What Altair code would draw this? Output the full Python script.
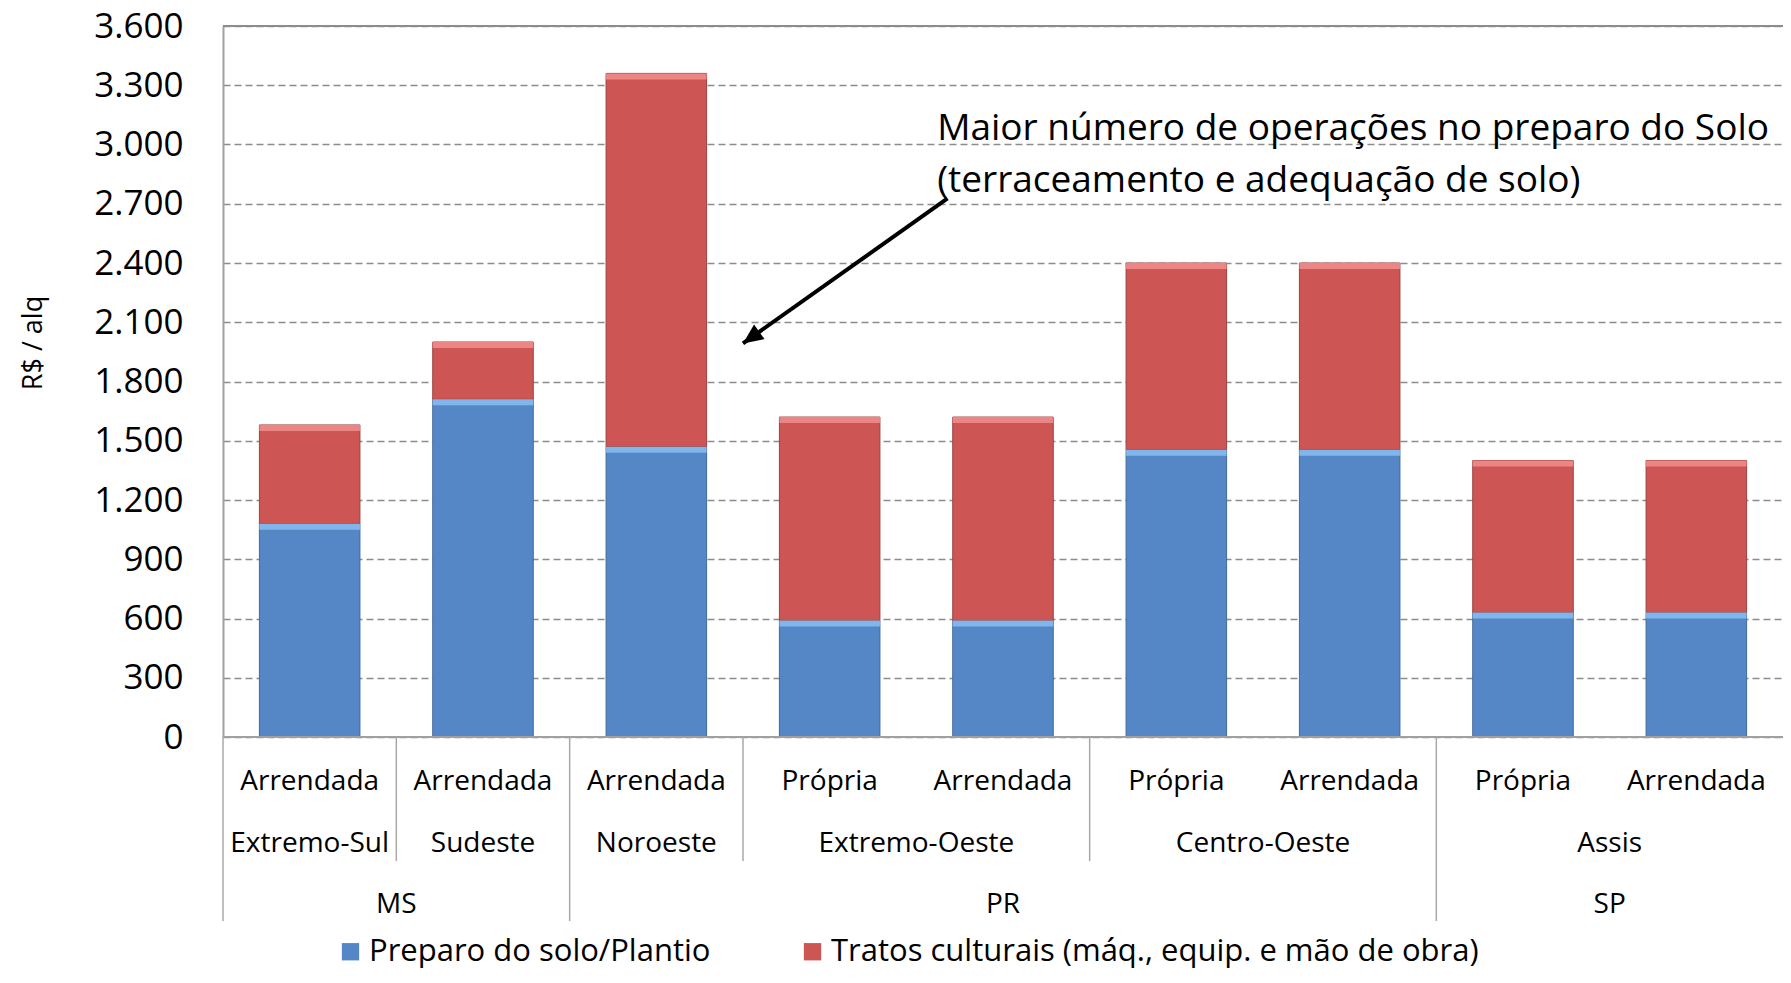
import altair as alt
import pandas as pd

# ---------------- data ----------------
states = ["MS", "MS", "PR", "PR", "PR", "PR", "PR", "SP", "SP"]
regions = ["Extremo-Sul", "Sudeste", "Noroeste", "Extremo-Oeste", "Extremo-Oeste",
           "Centro-Oeste", "Centro-Oeste", "Assis", "Assis"]
tenure = ["Arrendada", "Arrendada", "Arrendada", "Própria", "Arrendada",
          "Própria", "Arrendada", "Própria", "Arrendada"]
preparo = [1080, 1710, 1470, 590, 590, 1455, 1455, 630, 630]
tratos = [500, 290, 1890, 1030, 1030, 945, 945, 770, 770]
series = ["Preparo do solo/Plantio", "Tratos culturais (máq., equip. e mão de obra)"]
colors = ["#5587C7", "#CD5553"]
light_colors = ["#80B6EC", "#EC8684"]
edge_colors = ["#41699C", "#9C4240"]
y_ticks = list(range(0, 3601, 300))
annot_lines = ["Maior número de operações no preparo do Solo",
               "(terraceamento e adequação de solo)"]
annot_x = [4.12, 4.12]
annot_y = [3080, 2815]
arrow_x = [4.18, 3.0]
arrow_y = [2727, 1993]

# ---------------- layout constants ----------------
W, H = 1560, 711
FONT = "Open Sans"
n = len(tenure)

# ---------------- tables ----------------
rows = []
for i in range(n):
    bottoms = [0, preparo[i]]
    tops = [preparo[i], preparo[i] + tratos[i]]
    for s in range(2):
        rows.append({
            "pos": i, "x0": i + 0.21, "x1": i + 0.79,
            "y0": bottoms[s], "y1": tops[s], "serie": series[s],
            "light": light_colors[s], "edge": edge_colors[s],
        })
bars_df = pd.DataFrame(rows)

row1_df = pd.DataFrame({"x": [i + 0.5 for i in range(n)], "label": tenure})


def groups(labels):
    out = []
    start = 0
    for i in range(1, n + 1):
        if i == n or labels[i] != labels[start]:
            out.append((labels[start], start, i))
            start = i
    return out


reg_groups = groups(regions)
st_groups = groups(states)
row2_df = pd.DataFrame({"x": [(a + b) / 2 for _, a, b in reg_groups],
                        "label": [g for g, _, _ in reg_groups]})
row3_df = pd.DataFrame({"x": [(a + b) / 2 for _, a, b in st_groups],
                        "label": [g for g, _, _ in st_groups]})

state_bounds = sorted({a for _, a, _ in st_groups})
region_bounds = sorted({a for _, a, _ in reg_groups} - set(state_bounds))
long_df = pd.DataFrame({"x": state_bounds})
short_df = pd.DataFrame({"x": region_bounds})

annot_df = pd.DataFrame({"x": annot_x, "y": annot_y, "t": annot_lines})
arrow_df = pd.DataFrame({"x": [arrow_x[0]], "y": [arrow_y[0]],
                         "x2": [arrow_x[1]], "y2": [arrow_y[1]]})
head_df = pd.DataFrame({"x": [arrow_x[1]], "y": [arrow_y[1]]})
one = pd.DataFrame({"k": [0]})

xscale = alt.Scale(domain=[0, n], nice=False, zero=False)
yscale = alt.Scale(domain=[0, 3600], nice=False)

label_expr = "replace(format(datum.value, ','), ',', '.')"

bars = alt.Chart(bars_df).mark_bar(strokeWidth=1).encode(
    x=alt.X("x0:Q", scale=xscale, axis=None),
    x2="x1:Q",
    y=alt.Y("y0:Q", scale=yscale, axis=alt.Axis(
        values=y_ticks, labelExpr=label_expr, grid=True, gridDash=[7, 4],
        gridColor="#8c8c8c", gridWidth=1.5, domainColor="#a0a0a0", domainWidth=2,
        ticks=False, labelFontSize=35, labelFont=FONT, labelColor="black",
        labelPadding=40, title=None)),
    y2="y1:Q",
    color=alt.Color("serie:N", scale=alt.Scale(domain=series, range=colors),
                    legend=alt.Legend(orient="none", legendX=112, legendY=910,
                                      direction="horizontal", title=None,
                                      symbolType="square", symbolSize=300,
                                      symbolStrokeWidth=0, padding=0,
                                      labelFontSize=31, labelFont=FONT,
                                      labelColor="black", labelLimit=900,
                                      columnPadding=86, labelOffset=3)),
    stroke=alt.Stroke("edge:N", scale=None),
)

strips = alt.Chart(bars_df).mark_bar(y2Offset=6).encode(
    x=alt.X("x0:Q", scale=xscale, axis=None),
    x2="x1:Q",
    y=alt.Y("y1:Q", scale=yscale),
    y2="y1:Q",
    color=alt.Color("light:N", scale=None),
)

top_rule = alt.Chart(one).mark_rule(color="#8c8c8c", strokeWidth=2).encode(
    x=alt.value(0), x2=alt.value(W), y=alt.value(0))
bottom_rule = alt.Chart(one).mark_rule(color="#a0a0a0", strokeWidth=2).encode(
    x=alt.value(0), x2=alt.value(W), y=alt.value(H))

long_sep = alt.Chart(long_df).mark_rule(color="#a8a8a8", strokeWidth=1.5).encode(
    x=alt.X("x:Q", scale=xscale), y=alt.value(H), y2=alt.value(H + 184))
short_sep = alt.Chart(short_df).mark_rule(color="#a8a8a8", strokeWidth=1.5).encode(
    x=alt.X("x:Q", scale=xscale), y=alt.value(H), y2=alt.value(H + 124))


def text_row(df, ypx):
    return alt.Chart(df).mark_text(fontSize=28, font=FONT, color="black",
                                   baseline="middle", align="center").encode(
        x=alt.X("x:Q", scale=xscale), y=alt.value(ypx), text="label:N")


row1 = text_row(row1_df, 756)
row2 = text_row(row2_df, 818)
row3 = text_row(row3_df, 879)

annot = alt.Chart(annot_df).mark_text(fontSize=37, font=FONT, color="black",
                                      align="left", baseline="middle").encode(
    x=alt.X("x:Q", scale=xscale), y=alt.Y("y:Q", scale=yscale), text="t:N")

arrow = alt.Chart(arrow_df).mark_rule(color="black", strokeWidth=4).encode(
    x=alt.X("x:Q", scale=xscale), y=alt.Y("y:Q", scale=yscale),
    x2="x2:Q", y2="y2:Q")
head = alt.Chart(head_df).mark_point(
    shape="M0,0L0.45,1L-0.45,1Z", filled=True, color="black", opacity=1,
    size=1600, angle=234.5).encode(
    x=alt.X("x:Q", scale=xscale), y=alt.Y("y:Q", scale=yscale))

ytitle = alt.Chart(one).mark_text(text="R$ / alq", angle=270, fontSize=27,
                                  font=FONT, color="black", align="center",
                                  baseline="middle").encode(
    x=alt.value(-189), y=alt.value(317))

chart = alt.layer(
    bars, strips, top_rule, bottom_rule, long_sep, short_sep,
    row1, row2, row3, annot, arrow, head, ytitle
).properties(
    width=W, height=H,
    padding={"left": 215, "top": 18, "right": 0, "bottom": 236},
    autosize=alt.AutoSizeParams(type="none"),
).configure_view(stroke=None).configure(font=FONT)

chart.save("out.html", embed_options={"renderer": "svg", "actions": False})
